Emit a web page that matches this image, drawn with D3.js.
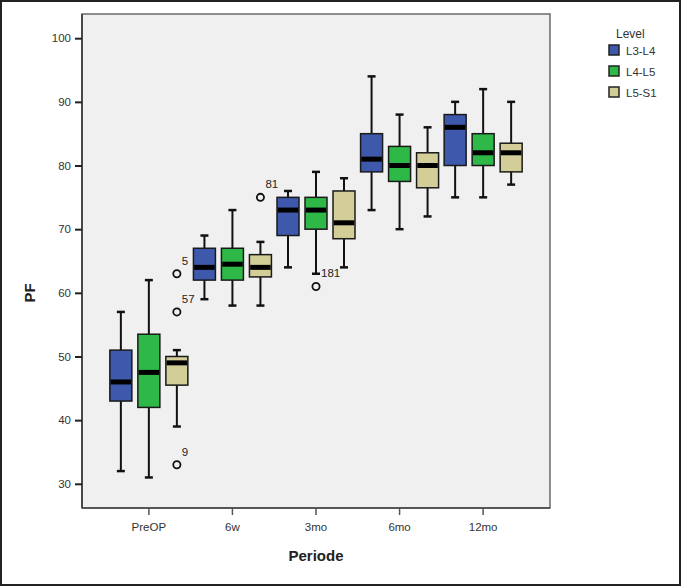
<!DOCTYPE html>
<html><head><meta charset="utf-8">
<script src="https://cdn.jsdelivr.net/npm/d3@7"></script>
<style>html,body{margin:0;padding:0;background:#fff;}svg{display:block;font-family:Arial,"Liberation Sans",sans-serif;}</style>
</head><body><svg id="c" width="681" height="586"></svg>
<script>
const periods = ["PreOP","6w","3mo","6mo","12mo"];
const levels = ["L3-L4","L4-L5","L5-S1"];
const levelColors = ["#3E58AC","#2EB848","#D3CE97"];
const yTicks = [30,40,50,60,70,80,90,100];
// [whiskerLow, Q1, median, Q3, whiskerHigh] per period, one array per level
const statsL3L4 = [[32,43,46,51,57],[59,62,64,67,69],[64,69,73,75,76],[73,79,81,85,94],[75,80,86,88,90]];
const statsL4L5 = [[31,42,47.5,53.5,62],[58,62,64.5,67,73],[63,70,73,75,79],[70,77.5,80,83,88],[75,80,82,85,92]];
const statsL5S1 = [[39,45.5,49,50,51],[58,62.5,64,66,68],[64,68.5,71,76,78],[72,76.5,80,82,86],[77,79,82,83.5,90]];
// outliers: period, level, value, case label
const outlierPeriods = ["PreOP","PreOP","PreOP","6w","3mo"];
const outlierLevels = ["L5-S1","L5-S1","L5-S1","L5-S1","L4-L5"];
const outlierValues = [63,57,33,75,61];
const outlierLabels = ["5","57","9","81","181"];

const statsByLevel = {"L3-L4":statsL3L4,"L4-L5":statsL4L5,"L5-S1":statsL5S1};
const boxes = [];
levels.forEach(l => periods.forEach((p,i) => {
  const s = statsByLevel[l][i];
  boxes.push({period:p, level:l, lo:s[0], q1:s[1], med:s[2], q3:s[3], hi:s[4]});
}));
const outliers = outlierValues.map((v,i)=>({period:outlierPeriods[i], level:outlierLevels[i], value:v, label:outlierLabels[i]}));

const svg = d3.select("#c");
const L = 82, R = 550, T = 14, B = 508;
const x = d3.scaleBand().domain(periods).range([L,R]).paddingInner(0).paddingOuter(0.3);
const x1 = d3.scalePoint().domain(levels).range([-28,28]);
const color = d3.scaleOrdinal().domain(levels).range(levelColors);
const y = d3.scaleLinear().domain([26.2,103.8]).range([B,T]);
const cx = d => x(d.period) + x.bandwidth()/2 + x1(d.level);
const bw = 22, capW = 8;

// outer frame
svg.append("rect").attr("x",1).attr("y",1).attr("width",679).attr("height",584)
  .attr("fill","#fff").attr("stroke","#222").attr("stroke-width",2);
// plot area
svg.append("rect").attr("x",L).attr("y",T).attr("width",R-L).attr("height",B-T)
  .attr("fill","#F0F0F0").attr("stroke","#6a6a6a").attr("stroke-width",1.5);

// axes
const ya = svg.append("g").attr("transform",`translate(${L},0)`)
  .call(d3.axisLeft(y).tickValues(yTicks).tickSize(7).tickPadding(4));
ya.select(".domain").attr("stroke","#333").attr("stroke-width",1.5).attr("d",`M0,${T}V${B}`);
ya.selectAll(".tick line").attr("stroke","#222").attr("stroke-width",2);
ya.selectAll(".tick text").attr("fill","#333").style("font-size","11.5px");

const xa = svg.append("g").attr("transform",`translate(0,${B})`)
  .call(d3.axisBottom(x).tickSize(7).tickPadding(8));
xa.select(".domain").attr("stroke","#444").attr("stroke-width",1.5).attr("d",`M${L},0H${R}`);
xa.selectAll(".tick line").attr("stroke","#555").attr("stroke-width",1.5);
xa.selectAll(".tick text").attr("fill","#333").style("font-size","11.5px");

// axis titles
svg.append("text").attr("x",316).attr("y",561).attr("text-anchor","middle")
  .style("font-size","15px").style("font-weight","bold").attr("fill","#222").text("Periode");
svg.append("text").attr("transform","translate(35,293) rotate(-90)").attr("text-anchor","middle")
  .style("font-size","15px").style("font-weight","bold").attr("fill","#222").text("PF");

// boxes
const g = svg.append("g");
const bx = g.selectAll("g.box").data(boxes).join("g").attr("class","box");
bx.append("line").attr("x1",cx).attr("x2",cx).attr("y1",d=>y(d.hi)).attr("y2",d=>y(d.q3))
  .attr("stroke","#111").attr("stroke-width",2);
bx.append("line").attr("x1",cx).attr("x2",cx).attr("y1",d=>y(d.q1)).attr("y2",d=>y(d.lo))
  .attr("stroke","#111").attr("stroke-width",2);
bx.append("line").attr("x1",d=>cx(d)-capW/2).attr("x2",d=>cx(d)+capW/2).attr("y1",d=>y(d.hi)).attr("y2",d=>y(d.hi))
  .attr("stroke","#111").attr("stroke-width",2.5);
bx.append("line").attr("x1",d=>cx(d)-capW/2).attr("x2",d=>cx(d)+capW/2).attr("y1",d=>y(d.lo)).attr("y2",d=>y(d.lo))
  .attr("stroke","#111").attr("stroke-width",2.5);
bx.append("rect").attr("x",d=>cx(d)-bw/2).attr("width",bw)
  .attr("y",d=>y(d.q3)).attr("height",d=>y(d.q1)-y(d.q3))
  .attr("fill",d=>color(d.level)).attr("stroke","#1a1a1a").attr("stroke-width",1.5);
bx.append("line").attr("x1",d=>cx(d)-bw/2+0.75).attr("x2",d=>cx(d)+bw/2-0.75).attr("y1",d=>y(d.med)).attr("y2",d=>y(d.med))
  .attr("stroke","#000").attr("stroke-width",5);

// outliers
const og = svg.append("g");
og.selectAll("circle").data(outliers).join("circle")
  .attr("cx",cx).attr("cy",d=>y(d.value)).attr("r",3.6)
  .attr("fill","none").attr("stroke","#111").attr("stroke-width",1.8);
og.selectAll("text").data(outliers).join("text")
  .attr("x",d=>cx(d)+5).attr("y",d=>y(d.value)-9)
  .style("font-size","11.5px").attr("fill","#222").text(d=>d.label);

// legend
const lg = svg.append("g");
lg.append("text").attr("x",616).attr("y",38).style("font-size","12px").attr("fill","#333").text("Level");
const li = lg.selectAll("g.li").data(levels).join("g").attr("class","li")
  .attr("transform",(d,i)=>`translate(609,${45+i*21})`);
li.append("rect").attr("width",10).attr("height",10).attr("fill",d=>color(d))
  .attr("stroke","#222").attr("stroke-width",1.5);
li.append("text").attr("x",17).attr("y",9.5).style("font-size","11.5px").attr("fill","#333").text(d=>d);
</script></body></html>
